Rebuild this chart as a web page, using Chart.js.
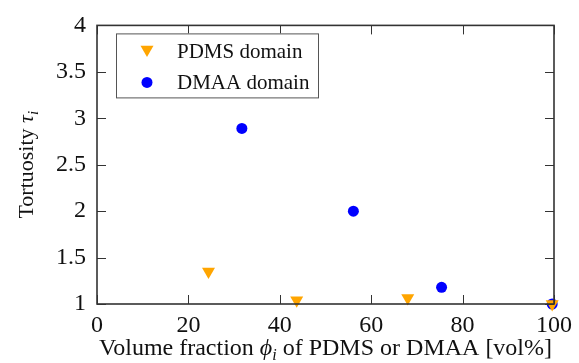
<!DOCTYPE html>
<html>
<head>
<meta charset="utf-8">
<script src="https://cdn.jsdelivr.net/npm/chart.js@4"></script>
<style>
  html, body { margin: 0; padding: 0; background: #fff; }
  #wrap { width: 579px; height: 363px; }
</style>
</head>
<body>
<div id="wrap"><canvas id="scatterChart" width="579" height="363"></canvas></div>
<script>
// values
var pdmsFraction = [24.4, 43.7, 68.0, 99.6];
var pdmsTortuosity = [1.35, 1.04, 1.065, 1.0];
var dmaaFraction = [31.7, 56.1, 75.4, 99.6];
var dmaaTortuosity = [2.89, 2.0, 1.18, 1.0];
var xTicks = [0, 20, 40, 60, 80, 100];
var yTicks = [1, 1.5, 2, 2.5, 3, 3.5, 4];
var seriesLabels = ["PDMS domain", "DMAA domain"];

var serif = "'Liberation Serif', 'Times New Roman', serif";

function toPoints(xs, ys) {
    return xs.map(function(x, i) { return { x: x, y: ys[i] }; });
}

// frame with inward ticks on all four sides
var framePlugin = {
    id: "frame",
    afterDatasetsDraw: function(chart) {
        var ctx = chart.ctx, a = chart.chartArea;
        var sx = chart.scales.x, sy = chart.scales.y;
        var len = 9;
        ctx.save();
        ctx.strokeStyle = "#333";
        ctx.lineWidth = 1;
        ctx.beginPath();
        xTicks.forEach(function(v) {
            var px = Math.round(sx.getPixelForValue(v)) + 0.5;
            ctx.moveTo(px, a.bottom); ctx.lineTo(px, a.bottom - len);
            ctx.moveTo(px, a.top); ctx.lineTo(px, a.top + len);
        });
        yTicks.forEach(function(v) {
            var py = Math.round(sy.getPixelForValue(v)) + 0.5;
            ctx.moveTo(a.left, py); ctx.lineTo(a.left + len, py);
            ctx.moveTo(a.right, py); ctx.lineTo(a.right - len, py);
        });
        ctx.stroke();
        ctx.lineWidth = 1.6;
        ctx.strokeRect(a.left, a.top, a.right - a.left, a.bottom - a.top);
        ctx.restore();
    }
};

// boxed legend inside the plot, upper left
var legendPlugin = {
    id: "boxLegend",
    afterDraw: function(chart) {
        var ctx = chart.ctx, a = chart.chartArea;
        var x0 = a.left + 19, y0 = a.top + 8, w = 202, h = 64;
        ctx.save();
        ctx.fillStyle = "#fff";
        ctx.fillRect(x0, y0, w, h);
        ctx.strokeStyle = "#555";
        ctx.lineWidth = 1;
        ctx.strokeRect(x0 + 0.5, y0 + 0.5, w, h);
        ctx.font = "21px " + serif;
        ctx.textBaseline = "middle";
        chart.data.datasets.forEach(function(ds, i) {
            var cy = y0 + 18 + i * 31;
            var cx = x0 + 31;
            ctx.fillStyle = ds.backgroundColor;
            ctx.strokeStyle = ds.borderColor;
            Chart.helpers.drawPoint(ctx, {
                pointStyle: ds.pointStyle,
                radius: ds.pointRadius,
                rotation: ds.rotation || 0,
                borderWidth: 0
            }, cx, ds.pointStyle === "triangle" ? cy - 2 : cy);
            ctx.fillStyle = "#111";
            ctx.fillText(ds.label, x0 + 61, cy + 1);
        });
        ctx.restore();
    }
};

// axis titles with italic symbol and subscript
function drawRuns(ctx, runs, x, y) {
    var total = 0;
    runs.forEach(function(r) { ctx.font = r.f; total += ctx.measureText(r.t).width; });
    var cx = x - total / 2;
    runs.forEach(function(r) {
        ctx.font = r.f;
        ctx.fillText(r.t, cx, y + (r.dy || 0));
        cx += ctx.measureText(r.t).width;
    });
}

var titlePlugin = {
    id: "axisTitles",
    afterDraw: function(chart) {
        var ctx = chart.ctx, a = chart.chartArea;
        ctx.save();
        ctx.fillStyle = "#111";
        ctx.textBaseline = "alphabetic";
        ctx.textAlign = "left";
        drawRuns(ctx, [
            { t: "Volume fraction ", f: "24px " + serif },
            { t: "\u03d5", f: "italic 24px " + serif },
            { t: "i", f: "italic 16px " + serif, dy: 5 },
            { t: " of PDMS or DMAA [vol%]", f: "24px " + serif }
        ], (a.left + a.right) / 2, 355);
        ctx.translate(33, (a.top + a.bottom) / 2);
        ctx.rotate(-Math.PI / 2);
        drawRuns(ctx, [
            { t: "Tortuosity ", f: "22px " + serif },
            { t: "\u03c4", f: "italic 22px " + serif },
            { t: "i", f: "italic 15px " + serif, dy: 5 }
        ], 0, 0);
        ctx.restore();
    }
};

var ctx = document.getElementById("scatterChart").getContext("2d");
var scatterChart = new Chart(ctx, {
    type: "scatter",
    data: {
        datasets: [
            {
                label: seriesLabels[0],
                data: toPoints(pdmsFraction, pdmsTortuosity),
                backgroundColor: "#ffa500",
                borderColor: "#ffa500",
                pointStyle: "triangle",
                rotation: 180,
                pointRadius: 7.5,
                pointBorderWidth: 0,
                clip: false
            },
            {
                label: seriesLabels[1],
                data: toPoints(dmaaFraction, dmaaTortuosity),
                backgroundColor: "#0000ff",
                borderColor: "#0000ff",
                pointStyle: "circle",
                pointRadius: 5.5,
                pointBorderWidth: 0,
                clip: false
            }
        ]
    },
    options: {
        responsive: false,
        animation: false,
        events: [],
        layout: { padding: { top: 22, right: 22, left: 0, bottom: 0 } },
        plugins: {
            legend: { display: false },
            tooltip: { enabled: false }
        },
        scales: {
            x: {
                type: "linear",
                min: 0,
                max: 100,
                afterBuildTicks: function(s) { s.ticks = xTicks.map(function(v) { return { value: v }; }); },
                afterFit: function(s) { s.height = 59; },
                grid: { display: false, drawTicks: false },
                border: { display: false },
                ticks: { color: "#111", padding: 7, maxRotation: 0, font: { family: serif, size: 24 } }
            },
            y: {
                type: "linear",
                min: 1,
                max: 4,
                afterBuildTicks: function(s) { s.ticks = yTicks.map(function(v) { return { value: v }; }); },
                afterFit: function(s) { s.width = 97; },
                grid: { display: false, drawTicks: false },
                border: { display: false },
                ticks: {
                    color: "#111",
                    padding: 11,
                    font: { family: serif, size: 24 },
                    callback: function(v) { return String(v); }
                }
            }
        }
    },
    plugins: [framePlugin, legendPlugin, titlePlugin]
});
</script>
</body>
</html>
